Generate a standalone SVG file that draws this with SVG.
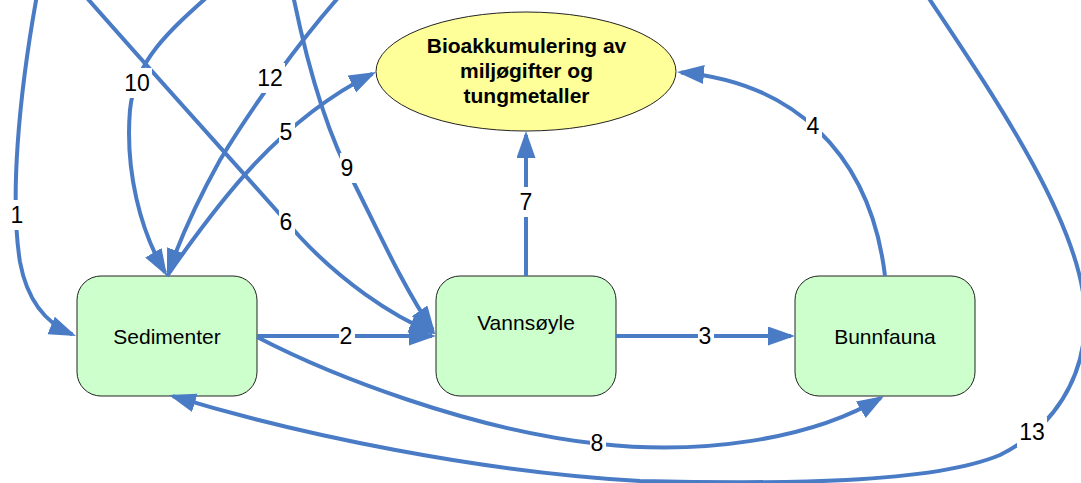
<svg xmlns="http://www.w3.org/2000/svg" width="1081" height="483" viewBox="0 0 1081 483">
<style>
.node{fill:#ccffcc;stroke:#222;stroke-width:1}
.ell{fill:#ffff99;stroke:#222;stroke-width:1}
.nt{font-family:"Liberation Sans",Arial,sans-serif;font-size:21px;fill:#000;text-anchor:middle}
.et{font-family:"Liberation Sans",Arial,sans-serif;font-size:21px;font-weight:bold;fill:#000;text-anchor:middle}
.c{fill:none;stroke:#4a7bc5;stroke-width:4;marker-end:url(#ah)}
.lb{fill:#fff}
.lt{font-family:"Liberation Sans",Arial,sans-serif;font-size:23px;fill:#000;text-anchor:middle}
</style>
<defs>
<marker id="ah" markerUnits="userSpaceOnUse" markerWidth="28" markerHeight="20" refX="23" refY="9.5" orient="auto">
<path d="M0,0 L27,9.5 L0,19 z" fill="#4a7bc5"/>
</marker>
</defs>
<rect width="1081" height="483" fill="#fff"/>
<g id="node-bioakkumulering">
<ellipse class="ell" cx="526" cy="71.5" rx="150" ry="59.5"/>
<text class="et" x="526.5" y="53">Bioakkumulering av</text>
<text class="et" x="526.5" y="78">miljøgifter og</text>
<text class="et" x="526.5" y="103">tungmetaller</text>
</g>
<g id="node-sedimenter">
<rect class="node" x="77" y="276" width="180" height="120" rx="24" ry="24"/>
<text class="nt" x="167" y="344">Sedimenter</text>
</g>
<g id="node-vannsoyle">
<rect class="node" x="436" y="276" width="180" height="120" rx="24" ry="24"/>
<text class="nt" x="526" y="330">Vannsøyle</text>
</g>
<g id="node-bunnfauna">
<rect class="node" x="795" y="276" width="180" height="120" rx="24" ry="24"/>
<text class="nt" x="885" y="344">Bunnfauna</text>
</g>
<g id="connectors">
<path id="e1" class="c" d="M37,-5 C18,100 10,200 20,262 C28,305 50,325 72.3,334.4"/>
<path id="e2" class="c" d="M257,336 L432,336"/>
<path id="e3" class="c" d="M616,336 L791,336"/>
<path id="e4" class="c" d="M885,276 C870,150 790,82 681,72.4"/>
<path id="e5" class="c" d="M167,276 C220,200 280,120 372.4,73.8"/>
<path id="e6" class="c" d="M80,-10 C150,70 250,180 300,237 C340,280 390,315 432.3,332.5"/>
<path id="e7" class="c" d="M526,276 L526,135"/>
<path id="e8" class="c" d="M257,337 C330,375 470,430 600,444 C700,455 810,440 880.6,398"/>
<path id="e9" class="c" d="M292,-10 C310,80 330,140 355,185 C380,235 405,290 432.7,329.7"/>
<path id="e10" class="c" d="M215,-10 C170,30 135,60 130,110 C125,170 140,230 165,272.6"/>
<path id="e12" class="c" d="M345,-10 C300,40 250,110 220,160 C195,205 178,245 168.3,272.2"/>
<path id="e13" class="c" d="M920,-15 C990,90 1080,220 1085,310 C1088,380 1050,430 1000,455 C930,484 780,484 640,481 C480,472 300,435 172.8,396.2"/>
<g id="labels">
<rect class="lb" x="10" y="200" width="16" height="30"/><text class="lt" x="17" y="223">1</text>
<rect class="lb" x="339" y="321" width="16" height="30"/><text class="lt" x="346" y="344">2</text>
<rect class="lb" x="698" y="321" width="16" height="30"/><text class="lt" x="705" y="344">3</text>
<rect class="lb" x="806" y="111" width="16" height="30"/><text class="lt" x="813" y="134">4</text>
<rect class="lb" x="279" y="117" width="16" height="30"/><text class="lt" x="286" y="140">5</text>
<rect class="lb" x="279" y="207" width="16" height="30"/><text class="lt" x="286" y="230">6</text>
<rect class="lb" x="519" y="187" width="16" height="30"/><text class="lt" x="526" y="210">7</text>
<rect class="lb" x="590" y="428" width="16" height="30"/><text class="lt" x="597" y="451">8</text>
<rect class="lb" x="340" y="153" width="16" height="30"/><text class="lt" x="347" y="176">9</text>
<rect class="lb" x="122" y="68" width="30" height="30"/><text class="lt" x="137" y="91">10</text>
<rect class="lb" x="255" y="63" width="30" height="30"/><text class="lt" x="270" y="86">12</text>
<rect class="lb" x="1017" y="417" width="30" height="30"/><text class="lt" x="1032" y="440">13</text>
</g>
</g>
</svg>
